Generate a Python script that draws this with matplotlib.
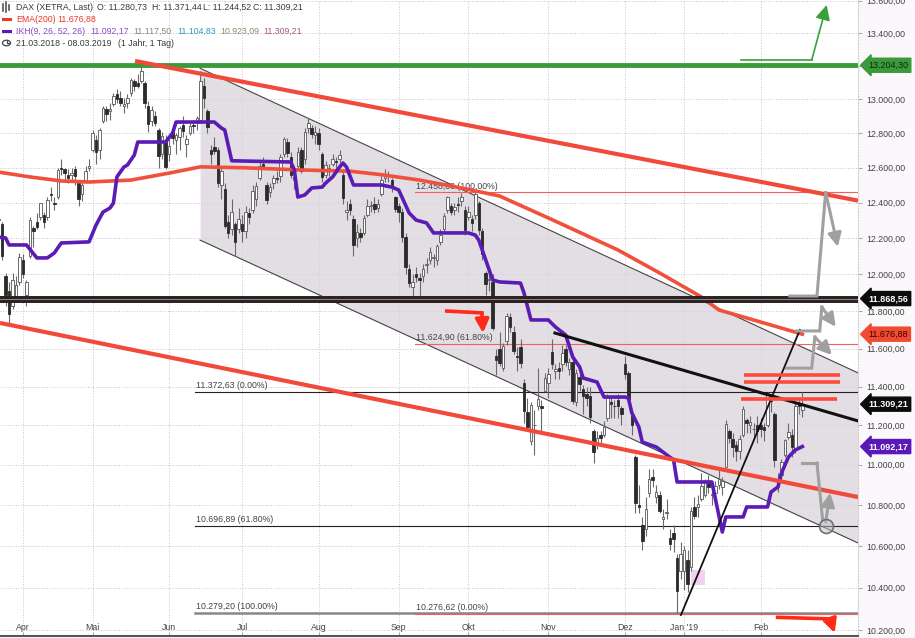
import numpy as np
import pandas as pd
import matplotlib
matplotlib.use("Agg")
import matplotlib.pyplot as plt
from matplotlib.ticker import FixedLocator, FuncFormatter, NullLocator
from matplotlib.transforms import blended_transform_factory
from matplotlib.patches import Rectangle, Circle
from matplotlib.lines import Line2D

plt.rcParams['font.family'] = ['Liberation Sans', 'DejaVu Sans']

# Xetra-Handelstage (21.03.2018 - 08.03.2019)
holidays = ["2018-03-30", "2018-04-02", "2018-05-01", "2018-12-24", "2018-12-25",
            "2018-12-26", "2018-12-31", "2019-01-01"]
days = pd.bdate_range("2018-03-21", "2019-03-08", freq="C", holidays=holidays)

# DAX Tageskerzen (21.03.2018 - 19.02.2019)
opens = [
    12300, 12280, 11990, 11910, 11830, 11880, 11960,
    12080, 11890, 12100, 12260, 12290, 12320, 12330, 12320, 12450, 12400, 12430, 12600, 12590, 12560, 12560, 12590, 12510, 12450, 12530, 12600,
    12700, 12760, 12700, 12870, 12940, 12930, 12970, 13030, 13010, 12960, 12980, 13040, 13110, 13100, 13110, 13100, 12960, 12870, 12900, 12820, 12680, 12750,
    12680, 12810, 12760, 12780, 12850, 12740, 12800, 12850, 12860, 12880, 13080, 12930, 12700, 12720, 12700, 12500, 12480, 12290, 12250, 12280, 12250,
    12280, 12240, 12340, 12360, 12420, 12540, 12620, 12500, 12460, 12510, 12540, 12550, 12680, 12750, 12660, 12530, 12610, 12700, 12650, 12830, 12830, 12790,
    12800, 12680, 12560, 12590, 12620, 12640, 12650, 12560, 12350, 12390, 12310, 12200, 12230, 12230, 12330, 12380, 12390, 12370, 12450, 12540, 12550, 12530, 12430,
    12380, 12350, 12210, 12030, 11930, 12000, 11980, 11990, 12050, 12080, 12090, 12080, 12180, 12250, 12360, 12380, 12360, 12390, 12410, 12360,
    12320, 12310, 12330, 12400, 12240, 12010, 11970, 11960, 11560, 11600, 11500, 11640, 11770, 11690, 11560, 11610, 11420, 11270, 11120, 11200, 11300, 11300, 11380,
    11420, 11580, 11480, 11500, 11520, 11600, 11490, 11530, 11320, 11450, 11390, 11360, 11350, 11170, 11100, 11150, 11150, 11240, 11320, 11300, 11330, 11290,
    11520, 11470, 11250, 11040, 10800, 10700, 10680, 10860, 10940, 10840, 10850, 10730, 10760, 10640, 10660, 10540, 10480,
    10480, 10530, 10500, 10790, 10790, 10830, 10850, 10910, 10850, 10860, 10900, 10890, 10990, 11170, 11130, 11100, 11070, 11150, 11230, 11200, 11180, 11200,
    11200, 11190, 11200, 11330, 11260, 10920, 10950, 11050, 11140, 11150, 11080, 11310, 11280.73,
]
highs = [
    12330, 12290, 12010, 11960, 12010, 11990, 12120,
    12110, 11970, 12320, 12270, 12340, 12400, 12350, 12430, 12490, 12430, 12600, 12650, 12600, 12590, 12600, 12610, 12530, 12520, 12610, 12650,
    12820, 12790, 12830, 12960, 12960, 12980, 13040, 13060, 13050, 13010, 13030, 13130, 13120, 13150, 13204, 13110, 12990, 12960, 12930, 12830, 12810, 12790,
    12770, 12830, 12800, 12840, 12900, 12790, 12860, 12880, 12900, 13170, 13130, 12940, 12730, 12780, 12720, 12600, 12510, 12330, 12420, 12290, 12370,
    12330, 12380, 12370, 12500, 12520, 12640, 12660, 12520, 12510, 12560, 12580, 12680, 12780, 12770, 12690, 12580, 12720, 12720, 12830, 12890, 12850, 12840,
    12830, 12690, 12640, 12620, 12680, 12660, 12700, 12580, 12410, 12420, 12330, 12280, 12260, 12330, 12420, 12410, 12430, 12420, 12550, 12590, 12580, 12540, 12440,
    12400, 12370, 12230, 12060, 12000, 12040, 12010, 12060, 12090, 12150, 12110, 12170, 12250, 12340, 12440, 12400, 12400, 12430, 12458, 12380,
    12380, 12330, 12460, 12410, 12260, 12020, 12040, 12000, 11600, 11690, 11630, 11790, 11790, 11720, 11610, 11650, 11440, 11340, 11320, 11280, 11500, 11330, 11470,
    11500, 11650, 11520, 11530, 11620, 11620, 11550, 11570, 11490, 11500, 11410, 11400, 11400, 11180, 11170, 11170, 11220, 11360, 11340, 11330, 11360, 11300,
    11560, 11480, 11270, 11050, 10900, 10740, 10840, 10980, 10980, 10900, 10870, 10780, 10830, 10680, 10700, 10560, 10620,
    10600, 10580, 10790, 10840, 10850, 10960, 10930, 10950, 10870, 10920, 10990, 10940, 11230, 11180, 11160, 11120, 11150, 11300, 11240, 11250, 11210, 11250,
    11240, 11210, 11372, 11360, 11270, 10960, 11030, 11130, 11210, 11180, 11320, 11330, 11371.44,
]
lows = [
    12230, 12080, 11830, 11727, 11810, 11860, 11940,
    11980, 11830, 12090, 12150, 12250, 12300, 12260, 12300, 12410, 12360, 12420, 12560, 12530, 12510, 12520, 12500, 12380, 12410, 12510, 12580,
    12690, 12620, 12650, 12860, 12870, 12880, 12960, 12980, 12960, 12920, 12950, 13020, 13050, 13070, 13100, 12950, 12810, 12840, 12840, 12600, 12650, 12590,
    12640, 12740, 12680, 12700, 12780, 12660, 12790, 12800, 12820, 12860, 12950, 12800, 12620, 12680, 12490, 12420, 12260, 12200, 12220, 12104, 12230,
    12180, 12200, 12280, 12340, 12380, 12530, 12590, 12390, 12430, 12480, 12510, 12520, 12660, 12660, 12540, 12480, 12600, 12570, 12620, 12800, 12770, 12740,
    12700, 12520, 12540, 12550, 12610, 12590, 12630, 12390, 12300, 12330, 12104, 12150, 12180, 12220, 12320, 12350, 12340, 12350, 12440, 12520, 12520, 12460, 12350,
    12290, 12180, 12000, 11930, 11865, 11960, 11870, 11960, 12010, 12060, 12040, 12050, 12160, 12230, 12340, 12330, 12330, 12350, 12380, 12220,
    12300, 12240, 12310, 12220, 12080, 11890, 11910, 11700, 11460, 11510, 11480, 11620, 11690, 11570, 11480, 11500, 11210, 11180, 11100, 11050, 11280, 11170, 11370,
    11340, 11490, 11440, 11440, 11480, 11510, 11460, 11310, 11300, 11380, 11260, 11300, 11210, 11010, 11080, 11110, 11140, 11220, 11240, 11240, 11240, 11200,
    11440, 11320, 11150, 10760, 10760, 10580, 10650, 10840, 10890, 10810, 10760, 10680, 10730, 10580, 10570, 10279, 10440,
    10386, 10380, 10480, 10730, 10740, 10820, 10840, 10860, 10800, 10820, 10880, 10850, 10990, 11110, 11040, 11020, 11030, 11140, 11160, 11160, 11130, 11110,
    11140, 11120, 11190, 11270, 10990, 10864, 10920, 11040, 11130, 11040, 11060, 11260, 11244.52,
]
closes = [
    12309, 12101, 11886, 11787, 11970, 11940, 12097,
    12002, 11957, 12305, 12241, 12261, 12397, 12293, 12415, 12442, 12392, 12585, 12590, 12567, 12540, 12572, 12550, 12422, 12500, 12580, 12612,
    12802, 12690, 12820, 12949, 12912, 12943, 13022, 13001, 12978, 12970, 13010, 13114, 13077, 13077, 13169, 12977, 12855, 12938, 12863, 12666, 12783, 12605,
    12724, 12770, 12787, 12830, 12811, 12767, 12842, 12842, 12890, 13107, 13010, 12834, 12677, 12695, 12511, 12580, 12270, 12228, 12349, 12177, 12306,
    12238, 12349, 12318, 12465, 12497, 12610, 12609, 12417, 12492, 12541, 12538, 12662, 12766, 12686, 12561, 12548, 12689, 12579, 12809, 12860, 12798, 12805,
    12737, 12546, 12615, 12598, 12648, 12633, 12676, 12424, 12358, 12358, 12163, 12237, 12210, 12313, 12384, 12386, 12365, 12394, 12527, 12562, 12561, 12494, 12364,
    12346, 12210, 12040, 11955, 11959, 11986, 11970, 12032, 12055, 12124, 12096, 12157, 12219, 12326, 12431, 12350, 12374, 12385, 12435, 12247,
    12346, 12287, 12450, 12244, 12111, 11947, 11977, 11712, 11539, 11523, 11614, 11776, 11715, 11589, 11554, 11524, 11274, 11191, 11307, 11201, 11336, 11287, 11447,
    11468, 11519, 11495, 11484, 11579, 11527, 11529, 11325, 11472, 11412, 11353, 11341, 11244, 11066, 11138, 11138, 11193, 11354, 11309, 11298, 11298, 11257,
    11465, 11335, 11200, 10811, 10788, 10622, 10780, 10931, 10924, 10866, 10772, 10740, 10766, 10611, 10634, 10382, 10559,
    10580, 10416, 10768, 10747, 10804, 10893, 10921, 10887, 10856, 10892, 10931, 10918, 11205, 11137, 11090, 11071, 11130, 11282, 11210, 11219, 11181, 11173,
    11180, 11176, 11368, 11325, 11022, 10906, 11014, 11126, 11167, 11090, 11299, 11300, 11309.21,
]

ema_idx = [0, 9, 18, 26, 38, 49, 58, 70, 87, 101, 110, 121, 133, 144, 158, 178, 190, 202, 207, 219, 231]
ema_val = [12575, 12547, 12524, 12518, 12529, 12569, 12605, 12600, 12587, 12580, 12560, 12529, 12484,
           12438, 12314, 12135, 12008, 11877, 11807, 11742, 11676.88]

ikh_idx = [0, 2, 3, 8, 11, 14, 16, 18, 26, 28, 30, 32, 33, 34, 36, 37, 39, 40, 48, 50, 51, 62, 64, 65,
           67, 84, 85, 86, 88, 90, 93, 94, 96, 98, 99, 100, 102, 110, 113, 115, 118, 120, 123, 125,
           135, 137, 138, 139, 142, 144, 150, 151, 153, 158, 160, 163, 165, 167, 168, 172, 174, 180,
           181, 182, 184, 185, 189, 194, 195, 205, 208, 209, 214, 215, 221, 222, 224, 225, 227, 229, 231]
ikh_val = [12207, 12202, 12163, 12163, 12091, 12091, 12118, 12174, 12180, 12274, 12347, 12370, 12398,
           12547, 12604, 12615, 12673, 12749, 12749, 12801, 12866, 12866, 12831, 12819, 12640, 12633,
           12587, 12432, 12444, 12484, 12489, 12512, 12547, 12604, 12627, 12604, 12501, 12501, 12489,
           12472, 12342, 12302, 12286, 12230, 12230, 12218, 12190, 12135, 11970, 11959, 11953, 11899,
           11753, 11753, 11716, 11672, 11556, 11503, 11445, 11424, 11346, 11346, 11341, 11264, 11192,
           11115, 11090, 11024, 10914, 10914, 10667, 10741, 10741, 10790, 10790, 10864, 10889, 10959,
           11039, 11075, 11092.17]

month_labels = ["Apr", "Mai", "Jun", "Jul", "Aug", "Sep", "Okt", "Nov", "Dez", "Jan '19", "Feb"]
month_keys = [(2018, 4), (2018, 5), (2018, 6), (2018, 7), (2018, 8), (2018, 9), (2018, 10),
              (2018, 11), (2018, 12), (2019, 1), (2019, 2)]

# Marken / Zeichnungen
green_level = 13204.30
black_level = 11868.56
fib_black = [(11372.63, "11.372,63 (0.00%)"), (10696.89, "10.696,89 (61.80%)"), (10279.20, "10.279,20 (100.00%)")]
fib_red = [(12458.38, "12.458,38 (100.00%)"), (11624.90, "11.624,90 (61.80%)"), (10276.62, "10.276,62 (0.00%)")]


def de(v):
    s = f"{v:,.2f}"
    return s.replace(",", "X").replace(".", ",").replace("X", ".")


o = np.array(opens, float)
c = np.array(closes, float)
h = np.maximum(np.array(highs, float), np.maximum(o, c))
l = np.minimum(np.array(lows, float), np.minimum(o, c))
x = np.arange(len(c))

fig = plt.figure(figsize=(9.15, 6.38), dpi=100, facecolor="#fbf8fb")
ax = fig.add_axes([0, 2 / 638, 858 / 915, 636 / 638])
ax.set_facecolor("white")
ax.set_yscale("log")
ax.set_xlim(0.4, 247)
ax.set_ylim(10172, 13604)

ax.yaxis.set_major_locator(FixedLocator(np.arange(10200, 13601, 200)))
ax.yaxis.set_minor_locator(NullLocator())
ax.yaxis.set_major_formatter(FuncFormatter(lambda v, p: de(v)))
ax.yaxis.tick_right()
ax.tick_params(axis="y", length=3, width=0.6, color="#999999", pad=3, labelsize=6.3, labelcolor="#444444")

tick_pos = [int(np.where((days.year == yy) & (days.month == mm))[0][0]) for yy, mm in month_keys]
ax.set_xticks(tick_pos)
ax.set_xticklabels(month_labels)
ax.tick_params(axis="x", direction="in", length=3, width=0.6, color="#999999", pad=-9,
               labelsize=6.3, labelcolor="#444444")
ax.grid(True, ls=":", lw=0.7, color="#c9c4cc", zorder=0)
ax.set_axisbelow(True)
for s in ["left", "top"]:
    ax.spines[s].set_visible(False)
ax.spines["right"].set_color("#cfcfcf")
ax.spines["right"].set_linestyle(":")
ax.spines["bottom"].set_color("#555555")
ax.spines["bottom"].set_linewidth(1.5)

# Abwaertskanal
ch_x = [57.9, 247]
ch_up = [13186, 11472]
ch_lo = [12190, 10614]
ax.fill_between(ch_x, ch_lo, ch_up, color="#d9d3db", alpha=0.75, lw=0, zorder=1)
ax.plot(ch_x, ch_up, color="#444444", lw=0.8, zorder=2)
ax.plot(ch_x, ch_lo, color="#444444", lw=0.8, zorder=2)

# Fibonacci
for val, txt in fib_black:
    col = "#222222" if val > 10400 else "#888888"
    ax.plot([56.4, 247], [val, val], color=col, lw=0.8 if val > 10400 else 1.8, zorder=2)
    ax.text(56.8, val * 1.0008, txt, fontsize=6.3, color="#444444", va="bottom", ha="left", zorder=2)
for val, txt in fib_red:
    ax.plot([119.6, 247], [val, val], color="#f06060", lw=0.8, zorder=2)
    ax.text(120.0, val * 1.0008, txt, fontsize=6.3, color="#444444", va="bottom", ha="left", zorder=2)

ax.add_patch(Rectangle((199, 10412), 4, 73, facecolor="#f2c6ee", edgecolor="none", alpha=0.8, zorder=2))

# Kerzen
up = c >= o
ax.vlines(x, l, h, color="#6a6a6a", lw=0.8, zorder=3)
ax.bar(x[up], np.maximum(c - o, 2)[up], bottom=o[up], width=0.72, facecolor="white",
       edgecolor="#555555", lw=0.6, zorder=4)
ax.bar(x[~up], np.maximum(o - c, 2)[~up], bottom=c[~up], width=0.72, facecolor="#2b2b2b",
       edgecolor="#2b2b2b", lw=0.6, zorder=4)

# Indikatoren
ax.plot(ema_idx, ema_val, color="#f0503c", lw=2.6, zorder=5)
ax.plot(ikh_idx, ikh_val, color="#5b1bb5", lw=2.6, zorder=5)

# horizontale Marken
ax.axhline(green_level, color="#3a9a3a", lw=3.5, zorder=6)
ax.axhline(black_level, color="#2a2020", lw=5, zorder=6)
ax.axhline(black_level, color="#8a8080", lw=0.8, zorder=6)

# Trendlinien
ax.plot([39.2, 247], [13230, 12412], color="#f24a3a", lw=3, zorder=6, solid_capstyle="butt")
ax.plot([0.4, 247], [11737, 10839], color="#f24a3a", lw=3, zorder=6, solid_capstyle="butt")
ax.plot([159.9, 247], [11683, 11223], color="#111111", lw=2.2, zorder=6)
ax.plot([196.1, 230.3], [10270, 11700], color="#111111", lw=1.3, zorder=6)
for y0, x0, x1 in [(11461, 214.2, 241.8), (11424, 214.2, 241.8), (11335, 213.3, 240.9)]:
    ax.plot([x0, x1], [y0, y0], color="#ff4a3a", lw=2.6, zorder=6, solid_capstyle="butt")


def arrow_path(xs, ys, color, lw, hl=0.8, hw=0.4):
    ax.plot(xs[:-1], ys[:-1], color=color, lw=lw, zorder=7, solid_joinstyle="miter")
    ax.annotate("", xy=(xs[-1], ys[-1]), xytext=(xs[-2], ys[-2]), zorder=7,
                arrowprops=dict(arrowstyle=f"-|>,head_length={hl},head_width={hw}", color=color,
                                lw=lw, shrinkA=0, shrinkB=0))


arrow_path([213.3, 233.7, 238.0], [13236, 13236, 13573], "#3aa03a", 1.2, 0.9, 0.45)
arrow_path([227.4, 235.2, 237.7, 241.2], [11882, 11882, 12458, 12153], "#a0a0a0", 2.2)
arrow_path([229.4, 236.0, 236.6, 240.6], [11694, 11694, 11823, 11716], "#a0a0a0", 2.2)
arrow_path([226.5, 233.7, 234.6, 239.5], [11497, 11497, 11662, 11566], "#a0a0a0", 2.2)
arrow_path([230.9, 235.2, 236.9], [11010, 11010, 10716], "#a0a0a0", 2.2, 0.01, 0.01)
arrow_path([237.7, 239.0], [10716, 10860], "#a0a0a0", 2.2)
ax.plot([237.7], [10697], marker="o", ms=10, mfc=(0.75, 0.75, 0.75, 0.5), mec="#707070", mew=1.2, zorder=7)
arrow_path([128.8, 138.9, 139.2], [11801, 11791, 11683], "#ff2a1a", 2.6)
arrow_path([223.9, 238.9, 240.3], [10259, 10252, 10186], "#ff2a1a", 2.6)

# Preisschilder rechts
trans = blended_transform_factory(ax.transAxes, ax.transData)
tags = [(green_level, "#3a9a3a", "#0b2a0b", "normal"), (black_level, "#0c0c0c", "white", "bold"),
        (ema_val[-1], "#f04a30", "#3a0000", "normal"), (closes[-1], "#0c0c0c", "white", "bold"),
        (ikh_val[-1], "#5a18b8", "white", "bold")]
for val, bg, tc, fw in tags:
    ax.text(1.012, val, de(val), transform=trans, ha="left", va="center", fontsize=6.5, color=tc,
            fontweight=fw, clip_on=False, zorder=10,
            bbox=dict(boxstyle="larrow,pad=0.28", fc=bg, ec=bg))

# Legende oben links
fs = 6.3


def ftxt(px, py, s, color="#3a3a3a"):
    fig.text(px / 915, 1 - py / 638, s, fontsize=fs, color=color, va="center", ha="left")


ftxt(16, 7, "DAX (XETRA, Last)")
ftxt(97, 7, "O: " + de(opens[-1]))
ftxt(152, 7, "H: " + de(highs[-1]))
ftxt(203, 7, "L: " + de(lows[-1]))
ftxt(253, 7, "C: " + de(closes[-1]))
ftxt(16, 19, "EMA(200)", "#e83a2a")
ftxt(57, 19, de(ema_val[-1]), "#e83a2a")
ftxt(16, 31, "IKH(9, 26, 52, 26)", "#8a4cc8")
ftxt(90, 31, de(ikh_val[-1]), "#8a4cc8")
ftxt(133, 31, "11.117,50", "#8a8a70")
ftxt(177, 31, "11.104,83", "#2a9ac0")
ftxt(220, 31, "10.923,09", "#8a8a70")
ftxt(263, 31, de(closes[-1]), "#a05a8a")
ftxt(16, 43, "21.03.2018 - 08.03.2019")
ftxt(118, 43, "(1 Jahr, 1 Tag)")

# Symbole
for px, y0, y1 in [(3, 4, 11), (6, 2, 12), (9, 5, 10)]:
    fig.add_artist(Line2D([px / 915, px / 915], [1 - y0 / 638, 1 - y1 / 638], color="#555555", lw=1.2))
fig.add_artist(Line2D([3 / 915, 10 / 915], [1 - 19 / 638, 1 - 19 / 638], color="#e83a2a", lw=2.2))
fig.add_artist(Line2D([3 / 915, 10 / 915], [1 - 31 / 638, 1 - 31 / 638], color="#5b1bb5", lw=2.2))
fig.add_artist(Circle((6.5 / 915, 1 - 43 / 638), 4 / 915, transform=fig.transFigure, fill=False,
                      ec="#444444", lw=0.9))
fig.add_artist(Line2D([6.5 / 915, 6.5 / 915, 8.5 / 915], [1 - 40.5 / 638, 1 - 43 / 638, 1 - 43 / 638],
                      color="#444444", lw=0.8))

fig.savefig("out.png", dpi=100, facecolor=fig.get_facecolor())
